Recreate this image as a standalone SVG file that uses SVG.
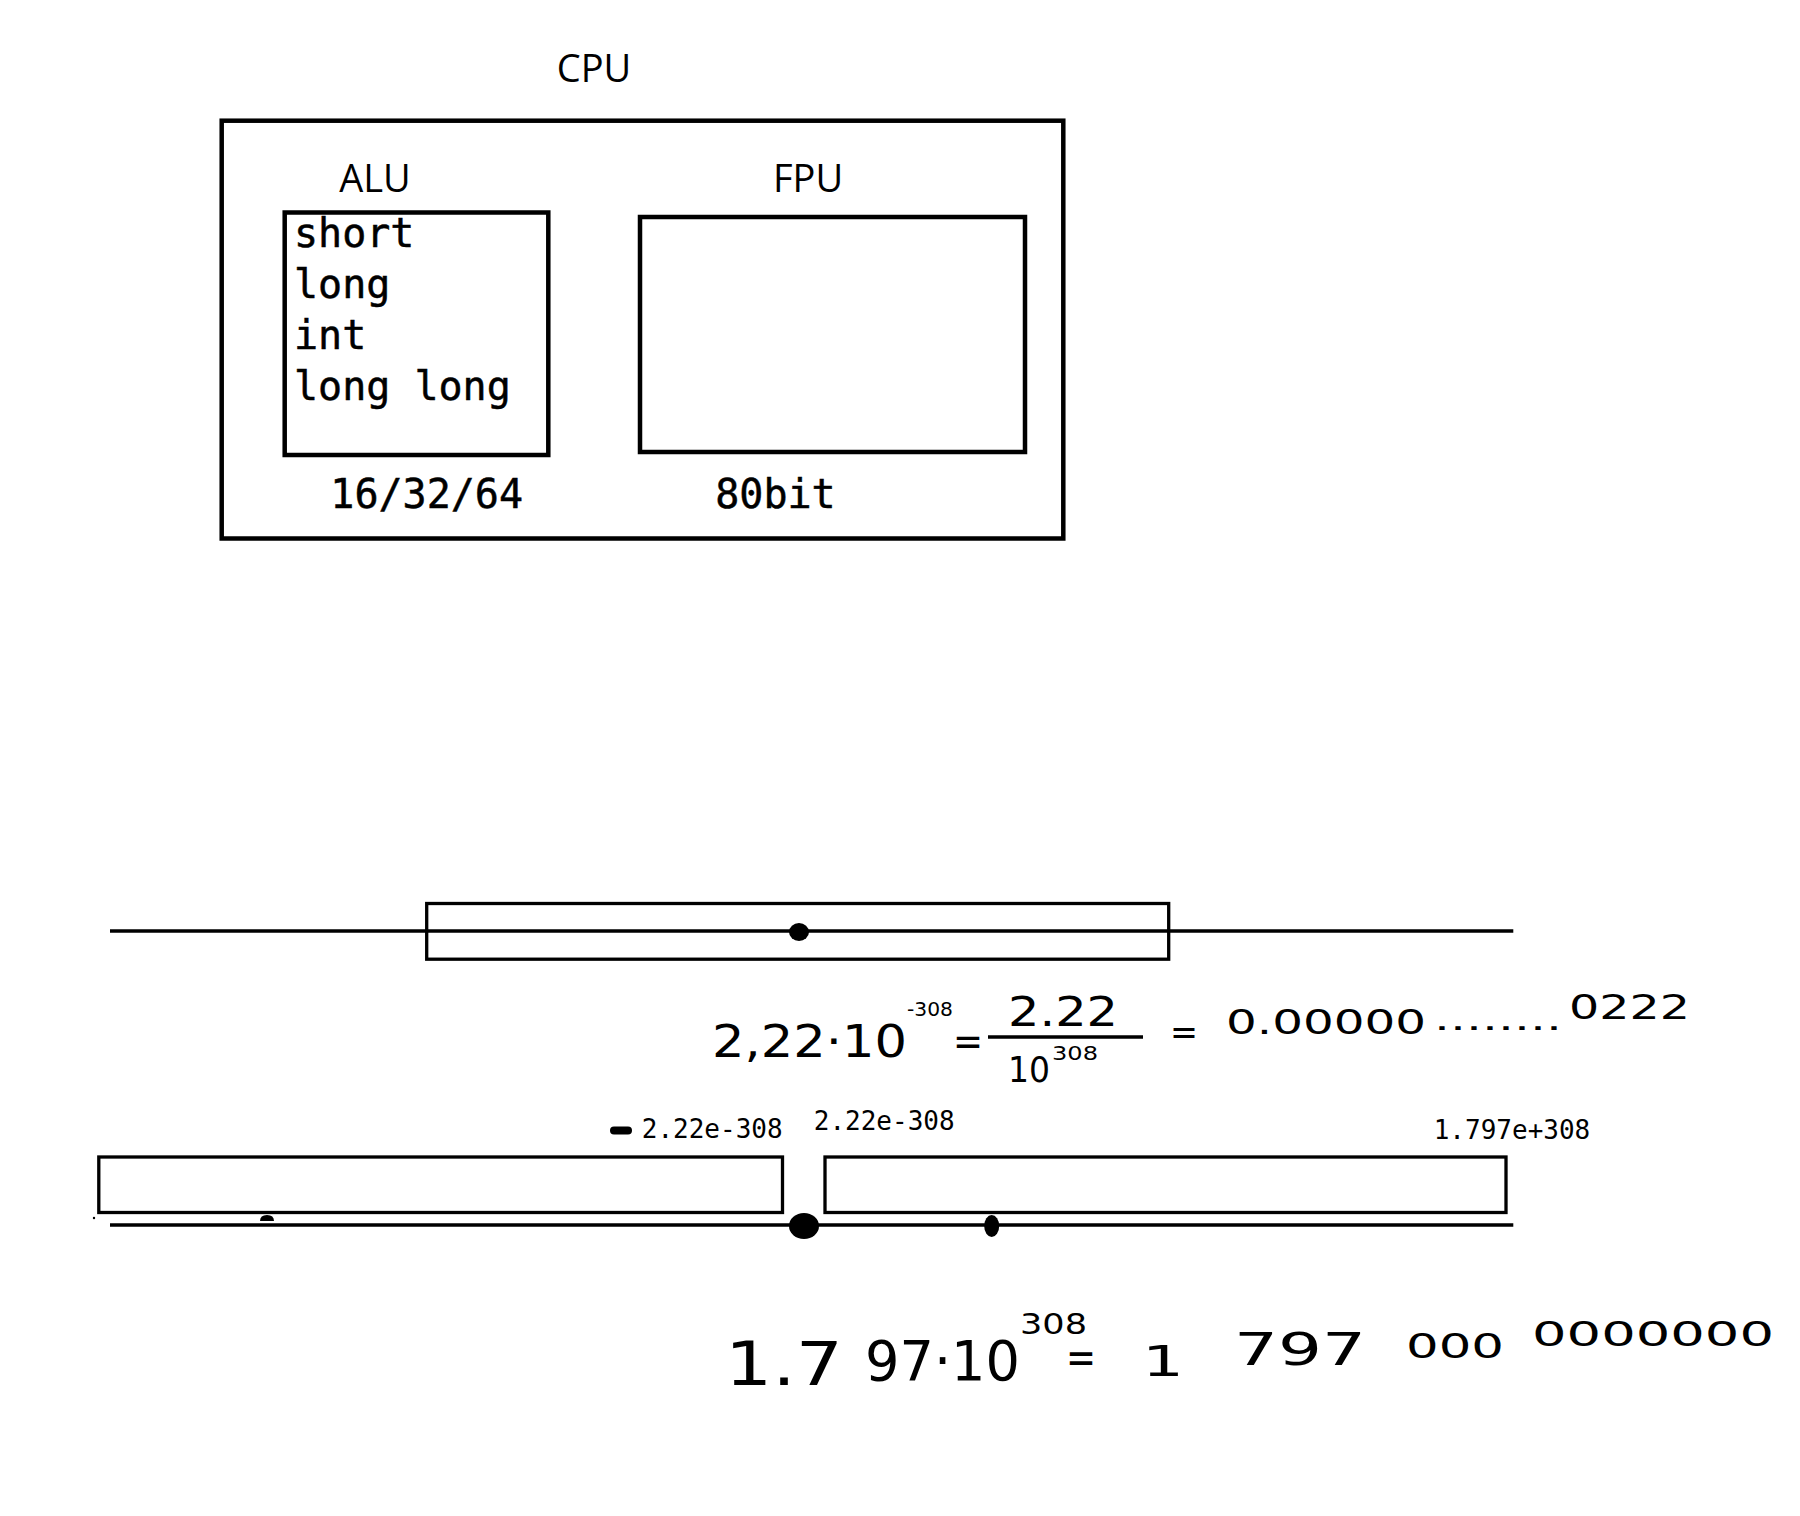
<svg xmlns="http://www.w3.org/2000/svg" width="1800" height="1516" viewBox="0 0 1800 1516">
<defs>
<style>
.box{fill:none;stroke:#000;stroke-width:4.5}
.thin{fill:none;stroke:#000;stroke-width:3.3}
.ln{stroke:#000;stroke-width:3.3;fill:none}
.lbl{font-family:"Open Sans","Noto Sans",sans-serif;font-size:38px;fill:#000;text-anchor:middle}
.mono{font-family:"DejaVu Sans Mono","Liberation Mono",monospace;font-size:40px;fill:#000;stroke:#000;stroke-width:0.5}
.small{font-family:"DejaVu Sans Mono","Liberation Mono",monospace;font-size:26px;fill:#000;text-anchor:middle}
.hw{font-family:"DejaVu Sans","Liberation Sans",sans-serif;fill:#000}
.dot{fill:#000}
</style>
</defs>
<rect width="1800" height="1516" fill="#fff"/>

<g id="cpu">
<text class="lbl" x="594" y="82">CPU</text>
<rect class="box" x="221.7" y="120.7" width="841.6" height="417.8"/>
</g>

<g id="alu">
<text class="lbl" x="375" y="192">ALU</text>
<rect class="box" x="284.7" y="212.5" width="263.6" height="242.5"/>
<text class="mono" x="294" y="247">short</text>
<text class="mono" x="294" y="298">long</text>
<text class="mono" x="294" y="349">int</text>
<text class="mono" x="294" y="400">long long</text>
<text class="mono" x="426.7" y="508" text-anchor="middle">16/32/64</text>
</g>

<g id="fpu">
<text class="lbl" x="808" y="191.5">FPU</text>
<rect class="box" x="640" y="217" width="385" height="235"/>
<text class="mono" x="775.5" y="508" text-anchor="middle">80bit</text>
</g>

<g id="connectors">
<line class="ln" x1="110" y1="931" x2="1513.3" y2="931"/>
<line class="ln" x1="110" y1="1225" x2="1513.3" y2="1225"/>
</g>

<g id="range-top">
<rect class="thin" x="426.7" y="903.5" width="742" height="55.7"/>
<ellipse class="dot" cx="799" cy="932" rx="10" ry="9"/>
</g>

<g id="formula-min">
<text class="hw" x="712" y="1057" font-size="44" textLength="195" lengthAdjust="spacingAndGlyphs">2,22·10</text>
<text class="hw" x="907" y="1016" font-size="19" textLength="46" lengthAdjust="spacingAndGlyphs">-308</text>
<text class="hw" x="953" y="1055" font-size="40" textLength="30" lengthAdjust="spacingAndGlyphs">=</text>
<text class="hw" x="1008" y="1026" font-size="40" textLength="110" lengthAdjust="spacingAndGlyphs">2.22</text>
<line class="ln" x1="988" y1="1037" x2="1143" y2="1037"/>
<text class="hw" x="1008" y="1082" font-size="36" textLength="42" lengthAdjust="spacingAndGlyphs">10</text>
<text class="hw" x="1052" y="1060" font-size="20" textLength="46" lengthAdjust="spacingAndGlyphs">308</text>
<text class="hw" x="1170" y="1044" font-size="36" textLength="28" lengthAdjust="spacingAndGlyphs">=</text>
<text class="hw" x="1226" y="1034" font-size="34" textLength="200" lengthAdjust="spacingAndGlyphs">0.00000</text>
<text class="hw" x="1434" y="1030" font-size="30" textLength="128" lengthAdjust="spacingAndGlyphs">........</text>
<text class="hw" x="1569" y="1019" font-size="33" textLength="121" lengthAdjust="spacingAndGlyphs">0222</text>
</g>

<g id="range-bottom">
<rect class="thin" x="98.8" y="1157" width="683.7" height="55.5"/>
<rect class="thin" x="825" y="1157" width="681" height="55.5"/>
<line x1="614" y1="1130.5" x2="628" y2="1130.5" stroke="#000" stroke-width="8" stroke-linecap="round"/>
<text class="small" x="712.2" y="1137.5">2.22e-308</text>
<text class="small" x="884.2" y="1130">2.22e-308</text>
<text class="small" x="1512" y="1138.5">1.797e+308</text>
<path class="dot" d="M260 1221 Q260 1215 267 1215 Q274 1215 274 1221 Z"/>
<circle class="dot" cx="94" cy="1218" r="1.2"/>
<ellipse class="dot" cx="804" cy="1226" rx="15" ry="13"/>
<ellipse class="dot" cx="991.7" cy="1226" rx="7.5" ry="11"/>
</g>

<g id="formula-max">
<text class="hw" x="725" y="1385" font-size="60" textLength="118" lengthAdjust="spacingAndGlyphs">1.7</text>
<text class="hw" x="865" y="1380" font-size="56" textLength="155" lengthAdjust="spacingAndGlyphs">97·10</text>
<text class="hw" x="1020" y="1334" font-size="29" textLength="67" lengthAdjust="spacingAndGlyphs">308</text>
<text class="hw" x="1066" y="1373" font-size="44" textLength="30" lengthAdjust="spacingAndGlyphs">=</text>
<text class="hw" x="1142" y="1376" font-size="42" textLength="42" lengthAdjust="spacingAndGlyphs">1</text>
<text class="hw" x="1234" y="1365" font-size="44" textLength="132" lengthAdjust="spacingAndGlyphs">797</text>
<text class="hw" x="1406" y="1358" font-size="34" textLength="98" lengthAdjust="spacingAndGlyphs">000</text>
<text class="hw" x="1532" y="1346" font-size="34" textLength="242" lengthAdjust="spacingAndGlyphs">0000000</text>
</g>
</svg>
